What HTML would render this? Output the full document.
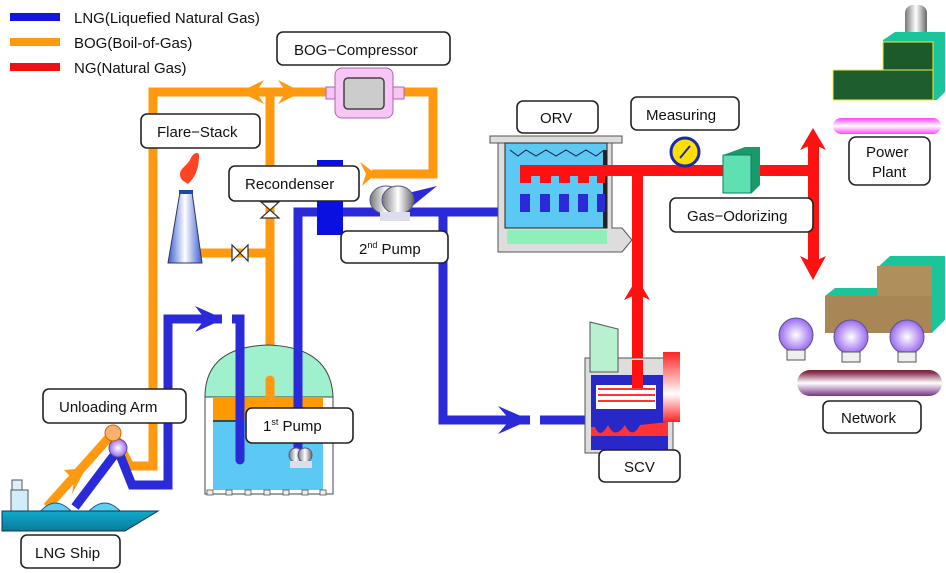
<!DOCTYPE html>
<html><head><meta charset="utf-8"><style>
html,body{margin:0;padding:0;background:#fff;}
svg{display:block;}
text{font-family:"Liberation Sans",sans-serif;font-size:15px;fill:#111;}
.lb{fill:#fff;stroke:#222;stroke-width:1.6;}
</style></head><body>
<svg width="946" height="573" viewBox="0 0 946 573" xmlns="http://www.w3.org/2000/svg">
<defs>
<linearGradient id="cyl" x1="0" x2="1"><stop offset="0" stop-color="#3a5fd0"/><stop offset="0.5" stop-color="#fff"/><stop offset="1" stop-color="#3a5fd0"/></linearGradient>
<linearGradient id="gr" x1="0" x2="1"><stop offset="0" stop-color="#777"/><stop offset="0.5" stop-color="#fff"/><stop offset="1" stop-color="#666"/></linearGradient>
<radialGradient id="glob"><stop offset="0" stop-color="#fff"/><stop offset="1" stop-color="#9a6af0"/></radialGradient>
<linearGradient id="pink" x1="0" y1="0" x2="0" y2="1"><stop offset="0" stop-color="#f4f"/><stop offset="0.5" stop-color="#fff"/><stop offset="1" stop-color="#f4f"/></linearGradient>
<linearGradient id="purp" x1="0" y1="0" x2="0" y2="1"><stop offset="0" stop-color="#722"/><stop offset="0.1" stop-color="#835"/><stop offset="0.5" stop-color="#fff"/><stop offset="1" stop-color="#738"/></linearGradient>
<linearGradient id="redg" x1="0" y1="0" x2="0" y2="1"><stop offset="0" stop-color="#f22"/><stop offset="0.6" stop-color="#fff"/><stop offset="1" stop-color="#f22"/></linearGradient>
<linearGradient id="hull" x1="0" y1="0" x2="0" y2="1"><stop offset="0" stop-color="#1ac"/><stop offset="1" stop-color="#0a7a9a"/></linearGradient>
</defs>

<rect x="10" y="13" width="50" height="8" fill="#1515e0"/>
<rect x="10" y="38" width="50" height="8" fill="#ff9a10"/>
<rect x="10" y="63" width="50" height="8" fill="#f01010"/>
<text x="74" y="23">LNG(Liquefied Natural Gas)</text>
<text x="74" y="48">BOG(Boil-of-Gas)</text>
<text x="74" y="73">NG(Natural Gas)</text>

<g stroke="#ff9a10" stroke-width="9" fill="none" stroke-linejoin="miter">
<polyline points="47,507 113,433 130,466 153,466 153,92 335,92"/>
<polyline points="395,92 433,92 433,174 372,174"/>
<line x1="270" y1="92" x2="270" y2="400"/>
<line x1="200" y1="253" x2="270" y2="253"/>
</g>
<g fill="#ff9a10">
<polygon points="264,80 240,92 264,104 256,92"/>
<polygon points="278,80 302,92 278,104 286,92"/>
<polygon points="360,162 376,174 362,186 366,174"/>
<polygon points="64,470 86,468 72,494 74,480"/>
</g>

<g stroke="#2a2ad8" stroke-width="9" fill="none">
<polyline points="75,507 118,450 132,485 168,485 168,319 240,319 240,460"/>
<polyline points="298,450 298,212 605,212"/>
<polyline points="443,212 443,420 585,420"/>
</g>
<polygon points="195,306 224,319 195,332 205,319" fill="#2a2ad8"/>
<polygon points="498,406 530,420 498,434 510,420" fill="#2a2ad8"/>
<rect x="222" y="312" width="10" height="14" fill="#fff"/>
<rect x="530" y="413" width="10" height="14" fill="#fff"/>

<rect x="317" y="160" width="26" height="75" fill="#0a10e0"/>

<rect x="326" y="87" width="12" height="12" fill="#f7c6f7" stroke="#a6a" />
<rect x="392" y="87" width="12" height="12" fill="#f7c6f7" stroke="#a6a"/>
<rect x="335" y="68" width="58" height="50" rx="7" fill="#f7c6f7" stroke="#a6a"/>
<rect x="344" y="78" width="40" height="31" rx="4" fill="#ccc" stroke="#444" stroke-width="1.5"/>

<polygon points="408,193 437,186 410,208" fill="#2a2ad8"/>
<ellipse cx="386" cy="200" rx="16" ry="14" fill="url(#gr)" stroke="#558"/>
<ellipse cx="398" cy="200" rx="16" ry="14" fill="url(#gr)" stroke="#558"/>
<rect x="380" y="212" width="30" height="9" fill="#dde"/>

<g fill="#fff" stroke="#333" stroke-width="1.2">
<polygon points="261,202 279,202 261,218 279,218"/>
<polygon points="232,245 232,261 248,245 248,261"/>
</g>

<polygon points="180,192 192,192 202,263 168,263" fill="url(#cyl)" stroke="#336"/>
<rect x="179" y="190" width="14" height="4" fill="#1a4aa8"/>
<path d="M182,180 C176,170 185,168 190,160 C193,152 200,150 199,158 C198,170 196,176 188,184 Z" fill="#f42"/>

<path d="M205,397 Q205,347 268,345 Q331,347 333,397 Z" fill="#9ff0cc" stroke="#444"/>
<rect x="205" y="397" width="128" height="97" fill="#fff" stroke="#444"/>
<rect x="213" y="397" width="110" height="23" fill="#f90"/>
<rect x="213" y="420" width="110" height="70" fill="#5cc8f4"/>
<line x1="213" y1="421" x2="240" y2="421" stroke="#222" stroke-width="1.5"/>
<g fill="#eee" stroke="#555" stroke-width="0.8">
<rect x="207" y="490" width="6" height="5"/><rect x="226" y="490" width="6" height="5"/><rect x="245" y="490" width="6" height="5"/><rect x="264" y="490" width="6" height="5"/><rect x="283" y="490" width="6" height="5"/><rect x="302" y="490" width="6" height="5"/><rect x="320" y="490" width="6" height="5"/></g>
<g stroke="#2a2ad8" stroke-width="9" fill="none" stroke-linecap="round">
<line x1="240" y1="330" x2="240" y2="460"/><line x1="298" y1="300" x2="298" y2="450"/><line x1="270" y1="380" x2="270" y2="405" stroke="#ff9a10"/></g>
<ellipse cx="296" cy="455" rx="7" ry="7" fill="url(#gr)" stroke="#558"/>
<ellipse cx="305" cy="455" rx="7" ry="7" fill="url(#gr)" stroke="#558"/>
<rect x="290" y="461" width="22" height="7" fill="#dde"/>

<rect x="12" y="480" width="10" height="10" fill="#dfeffa" stroke="#555"/>
<rect x="11" y="490" width="17" height="22" fill="#cfeefa" stroke="#555"/>
<path d="M40,512 Q55,494 72,512 Z" fill="#5cd0ee" stroke="#258"/>
<path d="M88,512 Q105,494 121,512 Z" fill="#5cd0ee" stroke="#258"/>
<polygon points="2,511 158,511 125,531 2,531" fill="url(#hull)" stroke="#135"/>
<circle cx="118" cy="448" r="9" fill="url(#glob)" stroke="#558"/>
<circle cx="113" cy="433" r="8" fill="#f8b070" stroke="#c60"/>

<rect x="490" y="136" width="132" height="7" fill="#ddd" stroke="#555"/>
<polygon points="498,143 612,143 612,228 622,228 632,240 622,252 498,252" fill="#ddd" stroke="#555"/>
<rect x="505" y="143" width="102" height="85" fill="#5cc8f4" stroke="#222"/>
<rect x="507" y="230" width="100" height="14" fill="#8ef0b8"/>
<path d="M510,150 l8,6 l8,-6 l10,6 l10,-6 l10,6 l10,-6 l10,6 l10,-6 l10,6 l8,-6" stroke="#124" fill="none" stroke-width="1"/>
<rect x="603" y="150" width="4" height="78" fill="#222"/>
<g fill="#f11">
<rect x="520" y="165" width="290" height="11"/>
<rect x="520" y="165" width="11" height="18"/><rect x="540" y="165" width="11" height="18"/><rect x="559" y="165" width="11" height="18"/><rect x="578" y="165" width="11" height="18"/><rect x="597" y="165" width="8" height="18"/>
<rect x="632" y="165" width="11" height="222"/>
<rect x="808" y="140" width="11" height="126"/>
<polygon points="800,150 813,128 826,150 813,144"/>
<polygon points="800,256 813,280 826,256 813,262"/>
<polygon points="624,300 637,278 650,300 637,294"/>
</g>
<g fill="#2a2ad8">
<rect x="520" y="194" width="10" height="18"/><rect x="540" y="194" width="10" height="18"/><rect x="559" y="194" width="10" height="18"/><rect x="578" y="194" width="10" height="18"/><rect x="597" y="194" width="8" height="18"/>
</g>

<circle cx="685" cy="152" r="14" fill="#ffe000" stroke="#1a2ab0" stroke-width="3"/>
<line x1="680" y1="158" x2="690" y2="146" stroke="#1a2ab0" stroke-width="2"/>
<polygon points="723,155 745,147 760,147 760,185 752,193 723,193" fill="#1a9a6a"/>
<rect x="723" y="155" width="28" height="38" fill="#5fe0b0" stroke="#176"/>

<rect x="585" y="358" width="88" height="95" fill="#ddd" stroke="#555"/>
<polygon points="590,322 618,329 618,372 590,372" fill="#b8f0d0" stroke="#555"/>
<rect x="591" y="375" width="77" height="75" fill="#2828c8"/>
<rect x="596" y="385" width="60" height="24" fill="#fff"/>
<g stroke="#f33" stroke-width="2"><line x1="598" y1="389" x2="655" y2="389"/><line x1="598" y1="395" x2="655" y2="395"/><line x1="598" y1="401" x2="655" y2="401"/></g>
<rect x="632" y="360" width="11" height="28" fill="#f11"/>
<rect x="663" y="352" width="17" height="70" fill="url(#redg)"/>
<path d="M591,427 L595,427 Q600,440 608,425 Q615,440 625,425 Q632,440 640,425 L668,422 L668,436 L591,436 Z" fill="#f33"/>

<rect x="905" y="5" width="22" height="40" rx="8" fill="url(#gr)"/>
<polygon points="883,40 895,32 945,32 945,92 937,100 833,100 833,70 883,70" fill="#1cc49a"/>
<rect x="883" y="42" width="50" height="28" fill="#1c5a2c" stroke="#ee3"/>
<rect x="833" y="70" width="100" height="30" fill="#1d5d2e" stroke="#ee3"/>
<rect x="833" y="118" width="108" height="16" rx="8" fill="url(#pink)"/>

<polygon points="877,268 890,256 945,256 945,320 932,333 877,333" fill="#1cc49a"/>
<rect x="877" y="266" width="55" height="30" fill="#b0905a"/>
<polygon points="825,296 835,288 877,288 877,296" fill="#1cc49a"/>
<rect x="825" y="296" width="107" height="37" fill="#a88656"/>
<g fill="url(#glob)" stroke="#558"><circle cx="796" cy="335" r="17"/><circle cx="851" cy="337" r="17"/><circle cx="907" cy="337" r="17"/></g>
<g fill="#eee" stroke="#555"><rect x="787" y="350" width="18" height="10"/><rect x="842" y="352" width="18" height="10"/><rect x="898" y="352" width="18" height="10"/></g>
<rect x="797" y="370" width="145" height="26" rx="13" fill="url(#purp)"/>

<rect class="lb" x="277" y="32" width="173" height="33" rx="6"/><text x="294" y="55">BOG−Compressor</text>
<rect class="lb" x="141" y="114" width="119" height="34" rx="6"/><text x="157" y="137">Flare−Stack</text>
<rect class="lb" x="229" y="166" width="130" height="35" rx="6"/><text x="245" y="189">Recondenser</text>
<rect class="lb" x="341" y="231" width="107" height="32" rx="6"/><text x="359" y="254">2<tspan font-size="9" dy="-6">nd</tspan><tspan dy="6"> Pump</tspan></text>
<rect class="lb" x="517" y="101" width="81" height="32" rx="6"/><text x="540" y="123">ORV</text>
<rect class="lb" x="631" y="97" width="108" height="33" rx="6"/><text x="646" y="120">Measuring</text>
<rect class="lb" x="670" y="198" width="143" height="34" rx="6"/><text x="687" y="221">Gas−Odorizing</text>
<rect class="lb" x="849" y="137" width="81" height="48" rx="7"/><text x="866" y="157">Power</text><text x="872" y="177">Plant</text>
<rect class="lb" x="823" y="401" width="98" height="32" rx="6"/><text x="841" y="423">Network</text>
<rect class="lb" x="599" y="450" width="81" height="32" rx="6"/><text x="624" y="472">SCV</text>
<rect class="lb" x="43" y="389" width="143" height="34" rx="6"/><text x="59" y="412">Unloading Arm</text>
<rect class="lb" x="246" y="408" width="107" height="35" rx="6"/><text x="263" y="431">1<tspan font-size="9" dy="-6">st</tspan><tspan dy="6">  Pump</tspan></text>
<rect class="lb" x="21" y="535" width="99" height="33" rx="6"/><text x="35" y="558">LNG Ship</text>
</svg>
</body></html>
